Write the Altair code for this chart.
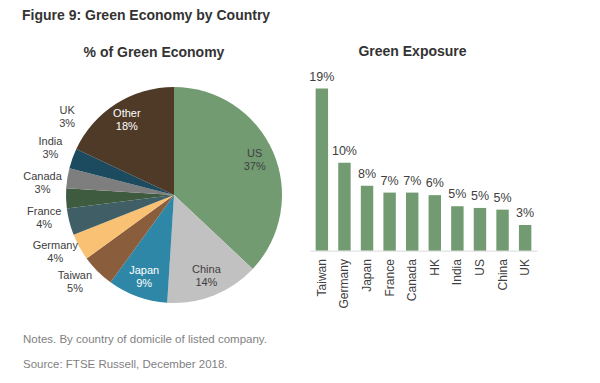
import altair as alt
import pandas as pd

FONT = "Liberation Sans"
TXT = "#404040"

# ---- data: pie (% of Green Economy) ----
pie_countries = ["US", "China", "Japan", "Taiwan", "Germany", "France", "Canada", "India", "UK", "Other"]
pie_shares = [37, 14, 9, 5, 4, 4, 3, 3, 3, 18]
pie_colors = ["#729b72", "#c1c1c1", "#2f87a7", "#8a5e3c", "#f8c173", "#3f5e65", "#3e5b40", "#7e7e7e", "#1c4a5e", "#4f3a28"]
pie_inside = [True, True, True, False, False, False, False, False, False, True]
pie_text_colors = [TXT, TXT, "#ffffff", TXT, TXT, TXT, TXT, TXT, TXT, "#ffffff"]

# ---- data: bars (Green Exposure) ----
bar_countries = ["Taiwan", "Germany", "Japan", "France", "Canada", "HK", "India", "US", "China", "UK"]
bar_values = [19.0, 10.3, 7.6, 6.8, 6.8, 6.5, 5.2, 5.0, 4.8, 3.0]
bar_labels = ["19%", "10%", "8%", "7%", "7%", "6%", "5%", "5%", "5%", "3%"]

notes_lines = ["Notes. By country of domicile of listed company.", "Source: FTSE Russell, December 2018."]

# ---- build pie table (cumulative angles + spread-out outside label positions) ----
rows = []
cum = 0.0
prev = None
for i, (c, s) in enumerate(zip(pie_countries, pie_shares)):
    start, end = cum, cum + s
    mid = (start + end) / 2
    if pie_inside[i]:
        lpos = mid
    else:
        lpos = mid + 1.0 if prev is None else max(mid, prev + 4.3)
        prev = lpos
    rows.append(dict(country=c, share=s, start=start, end=end, lpos=lpos,
                     inside=pie_inside[i], tcolor=pie_text_colors[i],
                     label=f"{c}\n{s}%", idx=i))
    cum = end
pie_df = pd.DataFrame(rows)
total = sum(pie_shares)
theta_scale = alt.Scale(domain=[0, total])

cx, cy = 152, 115
pie_base = alt.Chart(pie_df)
arcs = pie_base.mark_arc(outerRadius=108).encode(
    theta=alt.Theta("start:Q", scale=theta_scale),
    theta2="end:Q",
    color=alt.Color("country:N", scale=alt.Scale(domain=pie_countries, range=pie_colors), legend=None),
    x=alt.value(cx), y=alt.value(cy),
)
inside = pie_base.transform_filter("datum.inside").mark_text(
    radius=88, fontSize=11, font=FONT, lineBreak="\n", lineHeight=13, dy=-6.5
).encode(
    theta=alt.Theta("lpos:Q", scale=theta_scale, stack=None),
    text="label:N",
    color=alt.Color("tcolor:N", scale=None),
    x=alt.value(cx), y=alt.value(cy),
)
outside = pie_base.transform_filter("!datum.inside").mark_text(
    radius=132, fontSize=11, font=FONT, lineBreak="\n", lineHeight=13, color=TXT, dy=-6.5
).encode(
    theta=alt.Theta("lpos:Q", scale=theta_scale, stack=None),
    text="label:N",
    x=alt.value(cx), y=alt.value(cy),
)
pie = alt.layer(arcs, inside, outside).properties(
    width=264, height=227,
    title=alt.TitleParams("% of Green Economy", font=FONT, fontSize=14, fontWeight="bold",
                          color="#333333", offset=20, anchor="middle"),
)

# ---- bars ----
bar_df = pd.DataFrame({"country": bar_countries, "value": bar_values, "label": bar_labels})
bar_base = alt.Chart(bar_df).encode(
    x=alt.X("country:N", sort=bar_countries,
            scale=alt.Scale(paddingInner=0.45, paddingOuter=0.25),
            axis=alt.Axis(title=None, labelAngle=270, labelFont=FONT, labelFontSize=12,
                          labelColor=TXT, ticks=False, tickSize=0, labelPadding=8,
                          domainColor="#d9d9d9", grid=False)),
    y=alt.Y("value:Q", scale=alt.Scale(domain=[0, 20]), axis=None),
)
bars = bar_base.mark_bar(color="#729b72")
bar_text = bar_base.mark_text(dy=-12, fontSize=12.5, font=FONT, color=TXT).encode(text="label:N")
bar = alt.layer(bars, bar_text).properties(
    width=227, height=170.6,
    title=alt.TitleParams("Green Exposure", font=FONT, fontSize=14, fontWeight="bold",
                          color="#333333", offset=12, anchor="middle", dx=-11),
)

# ---- notes ----
notes_df = pd.DataFrame({"line": notes_lines, "row": [0, 1]})
notes = alt.Chart(notes_df).mark_text(
    align="left", baseline="middle", fontSize=11.5, font=FONT, color="#7f7f7f"
).encode(
    x=alt.value(1),
    y=alt.Y("row:Q", axis=None, scale=alt.Scale(domain=[0, 1], reverse=True)),
    text="line:N",
).properties(width=264, height=25)

chart = alt.vconcat(
    alt.hconcat(pie, bar, spacing=23),
    notes,
    spacing=26,
).properties(
    title=alt.TitleParams("Figure 9: Green Economy by Country", anchor="start", font=FONT,
                          fontSize=14, fontWeight="bold", color="#333333", offset=22),
    padding={"left": 14, "top": 0, "right": 5, "bottom": 5},
).configure_view(stroke=None)

chart.save("out.html", embed_options={"renderer": "svg", "actions": False})
